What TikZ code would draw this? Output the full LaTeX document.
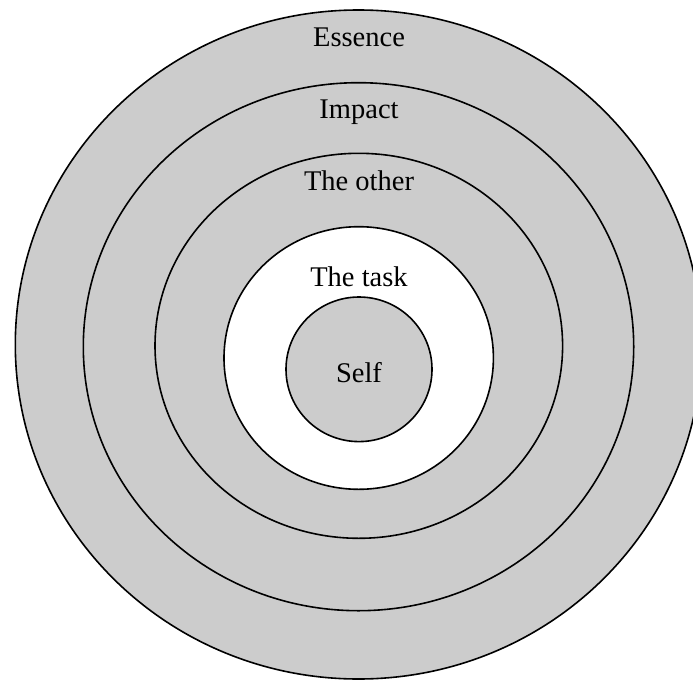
\documentclass[tikz,border=0pt]{standalone}
\usepackage{fontspec}
\setmainfont{Liberation Serif}
\usepackage{tikz}
\definecolor{Ring}{HTML}{CCCCCC}

\begin{document}
\begin{tikzpicture}[
  x=1pt,y=-1pt,
  ring/.style={draw=black,fill=Ring,line width=1.6pt},
  hole/.style={draw=black,fill=white,line width=1.6pt},
  lbl/.style={anchor=base,inner sep=0pt,font=\fontsize{28.5}{32}\selectfont}
]
\useasboundingbox (0,0) rectangle (693,680);
\clip (0,0) rectangle (693,680);
% rings, outside in
\draw[ring] (358.5,344.5) ellipse [x radius=343.2pt,y radius=334.5pt];
\draw[ring] (358.5,346.7) ellipse [x radius=275.2pt,y radius=264pt];
\draw[ring] (358.8,345.8) ellipse [x radius=203.8pt,y radius=192.5pt];
\draw[hole] (358.7,358) ellipse [x radius=134.7pt,y radius=131.3pt];
\draw[ring] (359,369.3) ellipse [x radius=73pt,y radius=72.3pt];
% labels
\node[lbl] (essence) at (359,46.7) {Essence};
\node[lbl] (impact) at (359,118.3) {Impact};
\node[lbl] (other) at (359,190.7) {The other};
\node[lbl] (task) at (359,286.7) {The task};
\node[lbl] (self) at (359,382.7) {Self};
\end{tikzpicture}
\end{document}
